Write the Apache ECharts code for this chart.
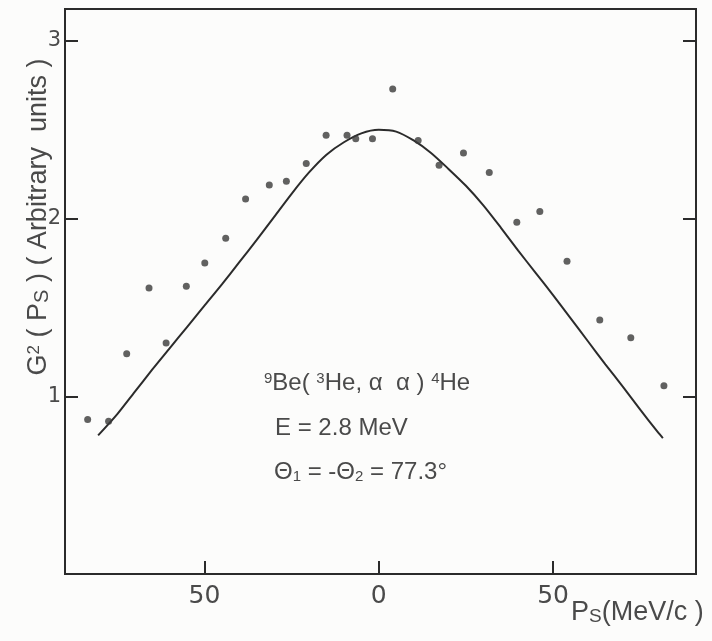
<!DOCTYPE html>
<html>
<head>
<meta charset="UTF-8">
<title>G2(Ps) 9Be(3He,aa)4He</title>
<script src="https://cdn.jsdelivr.net/npm/echarts@6/dist/echarts.min.js"></script>
<style>
  html, body { margin: 0; padding: 0; background: #fcfcfb; }
  #main { width: 712px; height: 641px; }
</style>
</head>
<body>
<div id="main"></div>
<script>
// measured points (Ps in MeV/c, G^2 in arbitrary units)
var ps = [-83.5, -77.5, -72.3, -65.9, -61.0, -55.2, -49.9, -43.9, -38.2, -31.4, -26.5, -20.8, -15.1, -9.1, -6.6, -1.8,
          4.0, 11.3, 17.3, 24.3, 31.7, 39.6, 46.2, 54.0, 63.4, 72.3, 81.8];
var g2 = [0.87, 0.86, 1.24, 1.61, 1.30, 1.62, 1.75, 1.89, 2.11, 2.19, 2.21, 2.31, 2.47, 2.47, 2.45, 2.45,
          2.73, 2.44, 2.30, 2.37, 2.26, 1.98, 2.04, 1.76, 1.43, 1.33, 1.06];

var curvePs = [-80.5, -75, -70, -65, -60, -55, -50, -45, -40, -35, -30, -25, -20, -15, -10, -5, 0,
               5, 10, 15, 20, 25, 30, 35, 40, 45, 50, 55, 60, 65, 70, 75, 80, 81.5];
var curveG2 = [0.78, 0.90, 1.025, 1.15, 1.27, 1.39, 1.51, 1.63, 1.755, 1.88, 2.01, 2.14, 2.26, 2.36, 2.43, 2.48, 2.50,
               2.49, 2.44, 2.37, 2.28, 2.185, 2.075, 1.95, 1.82, 1.695, 1.57, 1.44, 1.31, 1.18, 1.055, 0.925, 0.80, 0.765];

var xTicks = [-50, 0, 50];
var yTicks = [1, 2, 3];

var ink = '#2b2b2b';
var txt = '#4a4a4a';
var font = '"Liberation Sans", "DejaVu Sans", sans-serif';
var numFont = '"DejaVu Sans", sans-serif';

var points = ps.map(function (x, i) { return [x, g2[i]]; });
var curve = curvePs.map(function (x, i) { return [x, curveG2[i]]; });

var myChart = echarts.init(document.getElementById('main'));
var option = {
  backgroundColor: '#fcfcfb',
  animation: false,
  grid: {
    left: 65, right: 16, top: 9, bottom: 67,
    show: true, borderColor: ink, borderWidth: 2
  },
  xAxis: {
    type: 'value', min: -90, max: 91,
    axisLine: { show: true, onZero: false, lineStyle: { color: ink, width: 2 } },
    axisTick: { show: true, inside: true, length: 13, customValues: xTicks, lineStyle: { color: ink, width: 2 } },
    axisLabel: {
      customValues: xTicks, margin: 10, color: txt, fontSize: 25, fontFamily: numFont,
      formatter: function (v) { return String(Math.abs(v)); }
    },
    splitLine: { show: false }
  },
  yAxis: [{
    type: 'value', min: 0, max: 3.18, interval: 1, position: 'left',
    axisLine: { show: true, onZero: false, lineStyle: { color: ink, width: 2 } },
    axisTick: { show: true, inside: true, length: 13, lineStyle: { color: ink, width: 2 } },
    axisLabel: {
      margin: 4, color: txt, fontSize: 21, fontFamily: numFont,
      formatter: function (v) { return yTicks.indexOf(v) >= 0 ? String(v) : ''; }
    },
    splitLine: { show: false }
  }, {
    type: 'value', min: 0, max: 3.18, interval: 1, position: 'right',
    axisLine: { show: true, onZero: false, lineStyle: { color: ink, width: 2 } },
    axisTick: { show: true, inside: true, length: 13, lineStyle: { color: ink, width: 2 } },
    axisLabel: { show: false },
    splitLine: { show: false }
  }],
  series: [{
    name: 'calc', type: 'line', data: curve, smooth: 0.25, showSymbol: false,
    lineStyle: { color: ink, width: 2 }, z: 2
  }, {
    name: 'exp', type: 'scatter', data: points, symbol: 'circle', symbolSize: 7,
    itemStyle: { color: '#3a3a3a' }, z: 3
  }],
  graphic: [{
    type: 'text', x: 39, y: 217, rotation: Math.PI / 2,
    style: {
      text: 'G{sup|2} ( P{sub|S} ) ( Arbitrary  units )',
      fill: txt, fontSize: 27, fontFamily: font, align: 'center', verticalAlign: 'middle',
      rich: {
        sup: { fontSize: 17, verticalAlign: 'top', fill: txt, fontFamily: font },
        sub: { fontSize: 20, verticalAlign: 'bottom', fill: txt, fontFamily: font }
      }
    }
  }, {
    type: 'text', x: 571, y: 613,
    style: {
      text: 'P{sub|S}(MeV/c )',
      fill: txt, fontSize: 27, fontFamily: font, align: 'left', verticalAlign: 'middle',
      rich: { sub: { fontSize: 19, verticalAlign: 'bottom', fill: txt, fontFamily: font } }
    }
  }, {
    type: 'text', x: 264, y: 383,
    style: {
      text: '{sup|9}Be( {sup|3}He, \u03b1  \u03b1 ) {sup|4}He',
      fill: txt, fontSize: 24, fontFamily: font, align: 'left', verticalAlign: 'middle',
      rich: { sup: { fontSize: 15, verticalAlign: 'top', fill: txt, fontFamily: font } }
    }
  }, {
    type: 'text', x: 275, y: 428,
    style: {
      text: 'E = 2.8 MeV',
      fill: txt, fontSize: 24, fontFamily: font, align: 'left', verticalAlign: 'middle'
    }
  }, {
    type: 'text', x: 274, y: 472,
    style: {
      text: '\u0398{sub|1} = -\u0398{sub|2} = 77.3\u00b0',
      fill: txt, fontSize: 24, fontFamily: font, align: 'left', verticalAlign: 'middle',
      rich: { sub: { fontSize: 15, verticalAlign: 'bottom', fill: txt, fontFamily: font } }
    }
  }]
};
myChart.setOption(option);
</script>
</body>
</html>
